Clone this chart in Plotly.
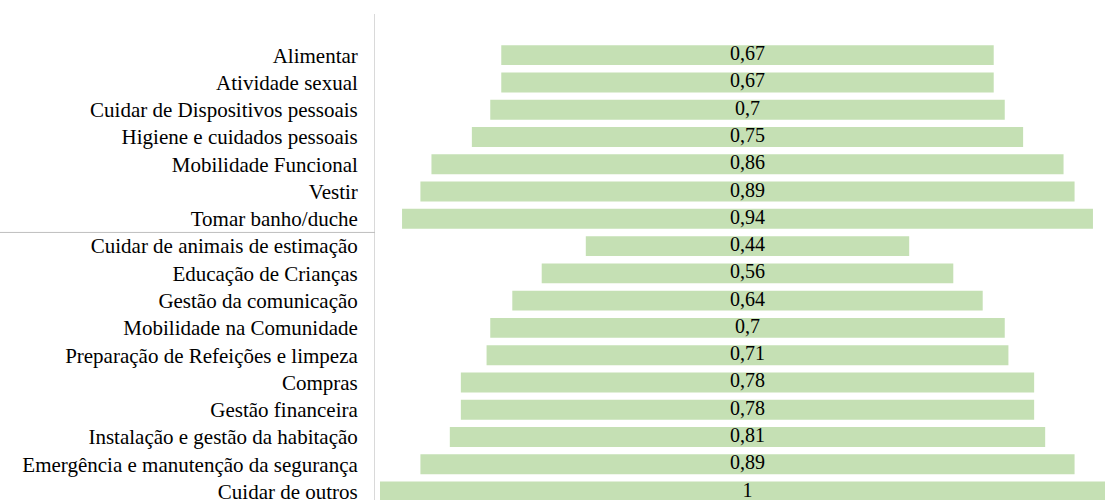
import plotly.graph_objects as go

categories = [
    "Alimentar",
    "Atividade sexual",
    "Cuidar de Dispositivos pessoais",
    "Higiene e cuidados pessoais",
    "Mobilidade Funcional",
    "Vestir",
    "Tomar banho/duche",
    "Cuidar de animais de estimação",
    "Educação de Crianças",
    "Gestão da comunicação",
    "Mobilidade na Comunidade",
    "Preparação de Refeições e limpeza",
    "Compras",
    "Gestão financeira",
    "Instalação e gestão da habitação",
    "Emergência e manutenção da segurança",
    "Cuidar de outros",
]
values = [0.67, 0.67, 0.70, 0.75, 0.86, 0.89, 0.94,
          0.44, 0.56, 0.64, 0.70, 0.71, 0.78, 0.78, 0.81, 0.89, 1.00]
group_break_after = "Tomar banho/duche"

def fmt(v):
    s = ("%.2f" % v).rstrip("0").rstrip(".")
    return s.replace(".", ",")

labels = [fmt(v) for v in values]
FONT = "Liberation Serif"

fig = go.Figure()
fig.add_trace(go.Bar(
    y=categories,
    x=values,
    base=[-v / 2 for v in values],
    orientation="h",
    width=0.73,
    marker=dict(color="#c5e0b4", line=dict(width=0)),
    hoverinfo="skip",
))
fig.add_trace(go.Scatter(
    y=categories,
    x=[0] * len(categories),
    mode="text",
    text=labels,
    textposition="middle center",
    textfont=dict(family=FONT, size=20, color="#000000"),
    hoverinfo="skip",
))

sep_idx = categories.index(group_break_after) + 0.5
fig.add_shape(type="line", xref="paper", yref="y",
              x0=-375 / 730, x1=0, y0=sep_idx, y1=sep_idx,
              line=dict(color="#bfbfbf", width=1))

fig.update_layout(
    width=1105, height=504,
    margin=dict(l=375, r=0, t=14, b=0),
    paper_bgcolor="white", plot_bgcolor="white",
    showlegend=False,
    font=dict(family=FONT),
    xaxis=dict(range=[-0.5068, 0.4864], showgrid=False, zeroline=False,
               showticklabels=False, showline=False, fixedrange=True),
    yaxis=dict(type="category", categoryorder="array", categoryarray=categories,
               range=[16.309, -1.509], showgrid=False, zeroline=False,
               showline=True, linecolor="#d9d9d9", linewidth=1,
               ticks="", ticklabelstandoff=12, fixedrange=True,
               tickfont=dict(family=FONT, size=21, color="#000000")),
)

fig.write_html("out.html",
               config={"displayModeBar": False},
               post_script="document.body.style.margin='0';document.body.style.overflow='hidden';")
